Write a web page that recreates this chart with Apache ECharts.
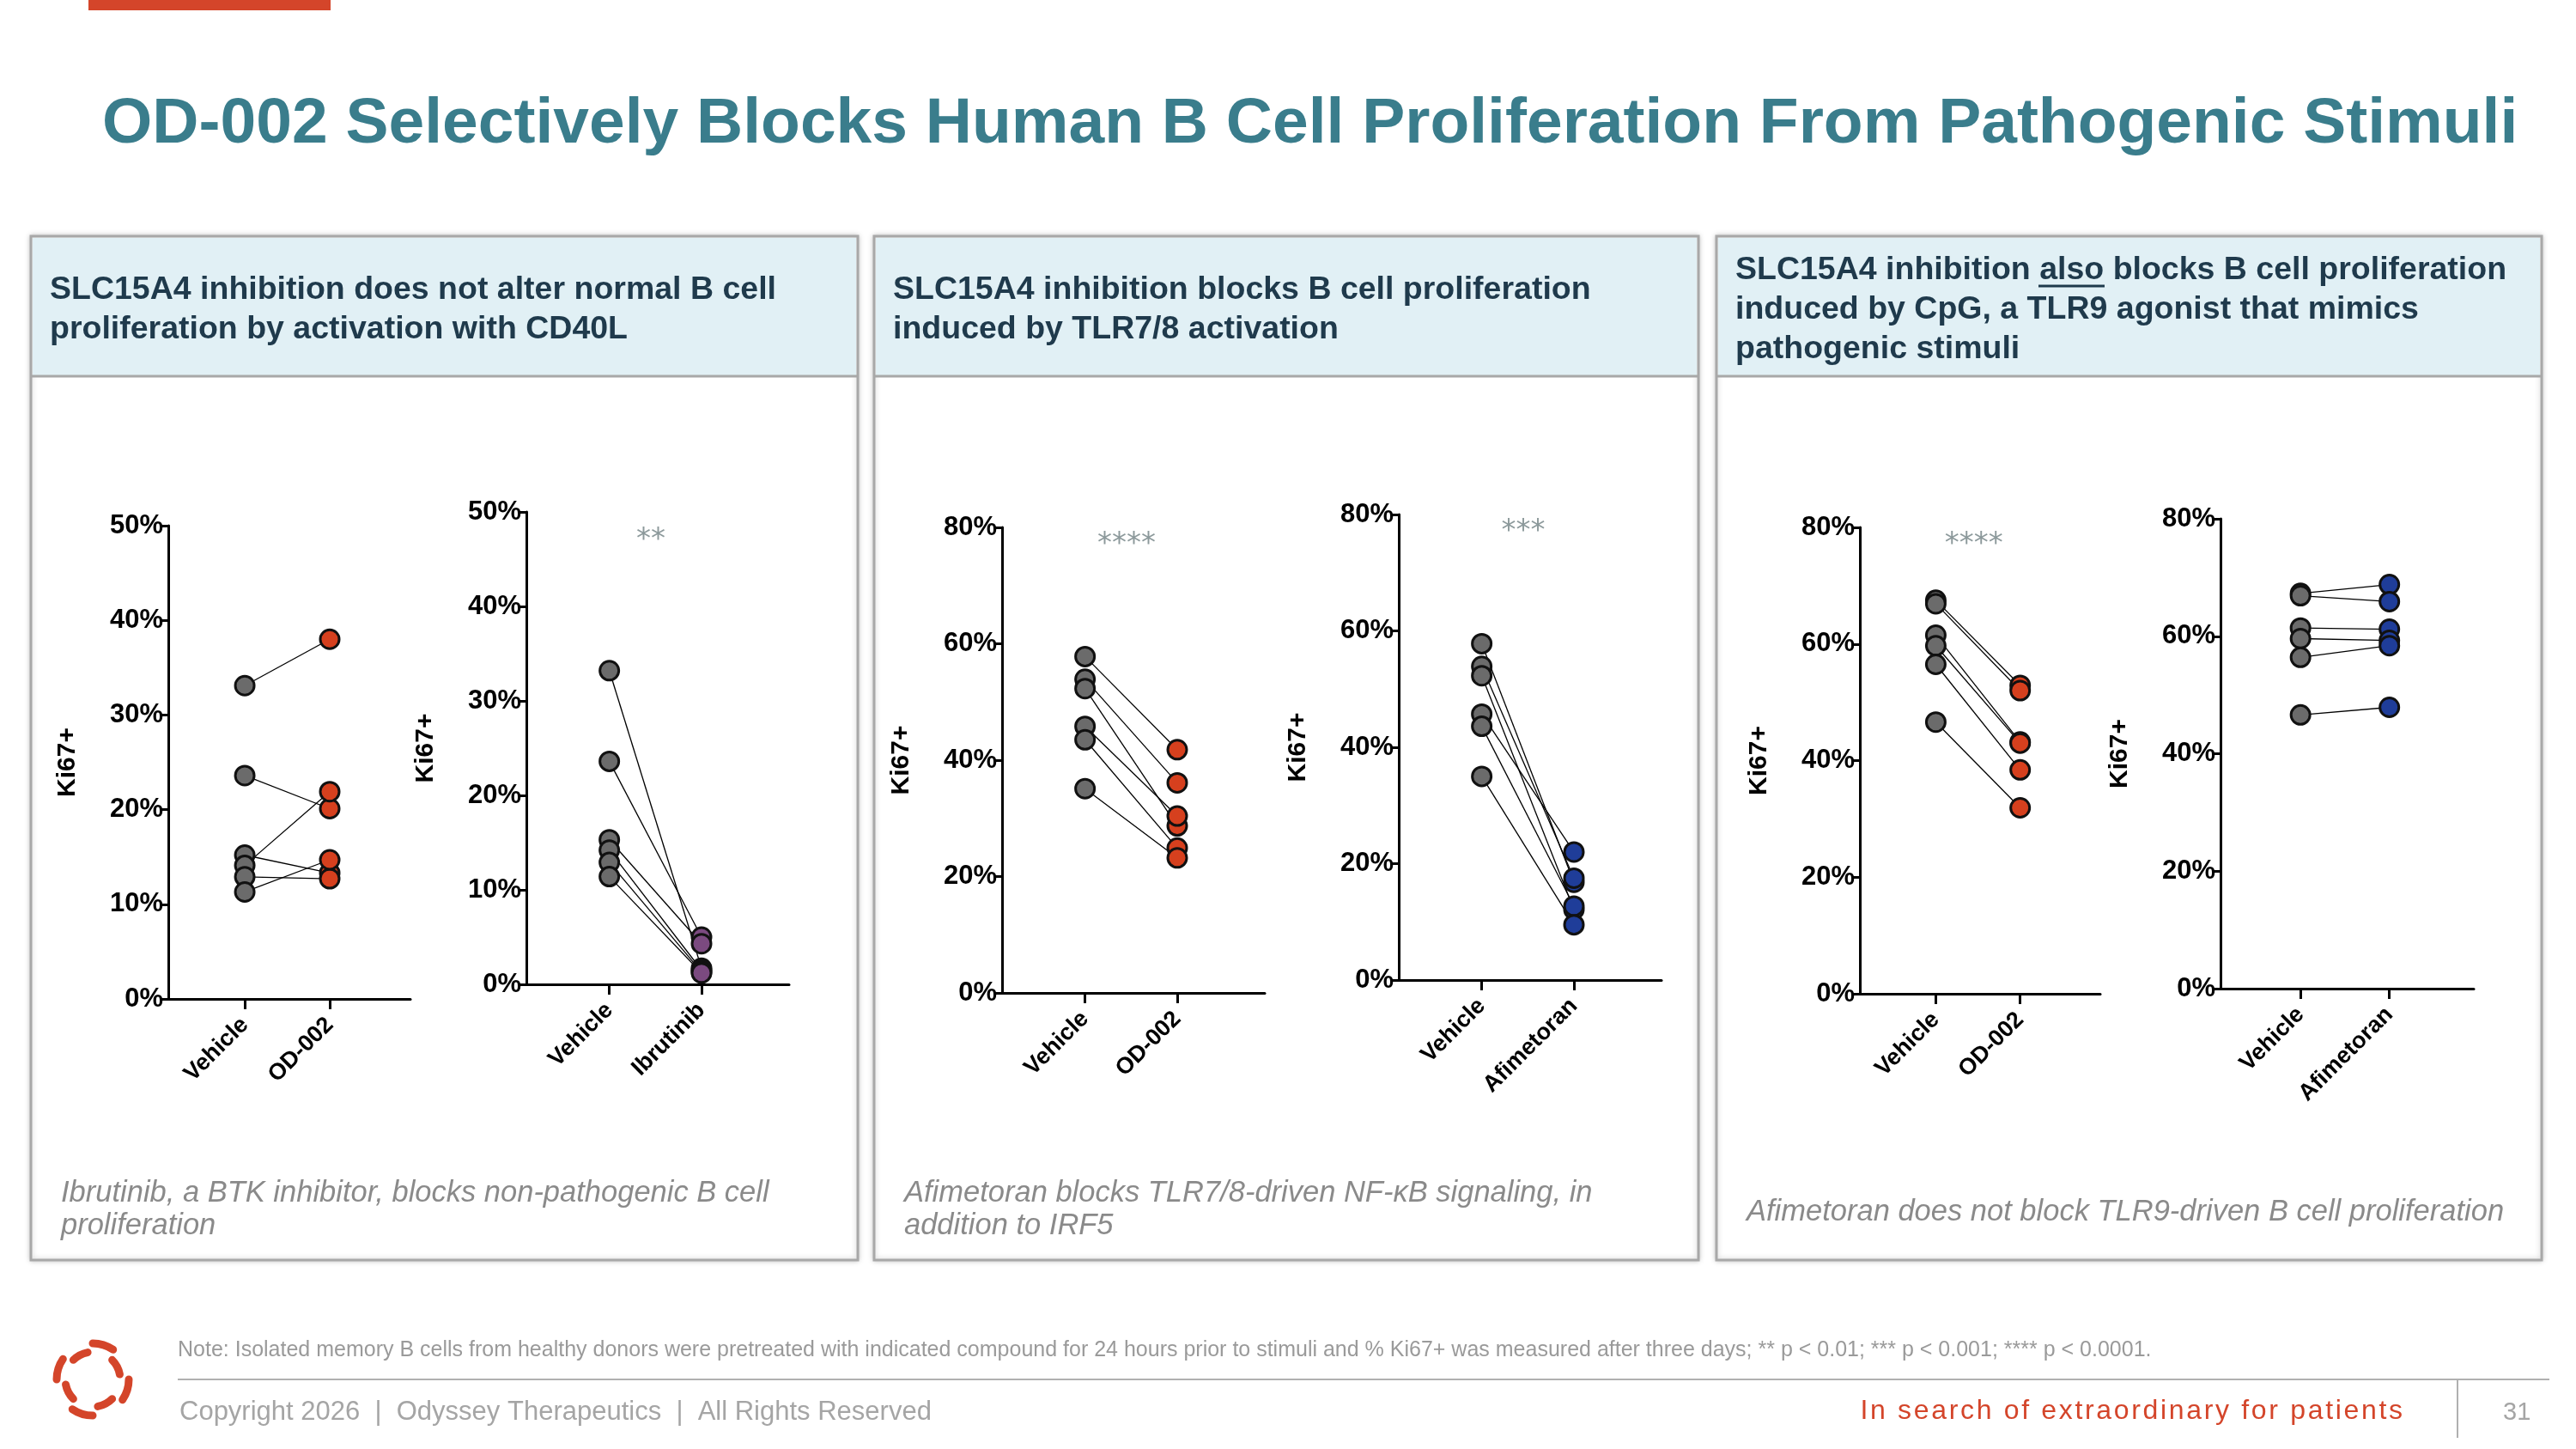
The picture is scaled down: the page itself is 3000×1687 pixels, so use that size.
<!DOCTYPE html>
<html><head><meta charset="utf-8">
<script src="https://cdn.jsdelivr.net/npm/echarts@6/dist/echarts.min.js"></script>
<style>html,body{margin:0;padding:0;background:#fff}#c{width:3000px;height:1687px}</style>
</head><body><div id="c"></div>
<script>
const xCats1 = ['Vehicle','OD-002'];
const xCats2 = ['Vehicle','Ibrutinib'];
const xCats3 = ['Vehicle','OD-002'];
const xCats4 = ['Vehicle','Afimetoran'];
const xCats5 = ['Vehicle','OD-002'];
const xCats6 = ['Vehicle','Afimetoran'];
const veh1 = [33.1,23.6,15.2,14.1,12.9,11.3], trt1 = [38.0,20.1,13.3,21.9,12.7,14.7];
const veh2 = [33.2,23.6,15.3,14.2,12.9,11.4], trt2 = [1.7,5.0,4.3,1.5,1.3,1.2];
const veh3 = [57.8,53.9,52.3,45.8,43.5,35.1], trt3 = [41.8,36.1,28.7,30.4,24.9,23.2];
const veh4 = [57.8,53.9,52.3,45.7,43.6,35.0], trt4 = [16.8,17.5,12.1,22.0,12.7,9.5];
const veh5 = [67.5,66.9,61.5,59.7,56.5,46.6], trt5 = [52.9,52.0,43.2,43.0,38.4,31.9];
const veh6 = [67.3,66.9,61.4,59.6,56.4,46.6], trt6 = [68.8,65.9,61.2,59.3,58.4,47.9];
const yMax = [50,50,80,80,80,80];
const yStep = [10,10,20,20,20,20];
const stars = ['','**','****','***','****',''];
const starY = [0,47,77,77,77,0];

const charts = [
 {cats:xCats1,veh:veh1,trt:trt1,col:'#d6401e',l:196,t:612,r:478,b:1163},
 {cats:xCats2,veh:veh2,trt:trt2,col:'#7b4a80',l:613,t:596,r:919,b:1146},
 {cats:xCats3,veh:veh3,trt:trt3,col:'#d6401e',l:1167,t:614,r:1473,b:1156},
 {cats:xCats4,veh:veh4,trt:trt4,col:'#1f3d99',l:1629,t:599,r:1935,b:1141},
 {cats:xCats5,veh:veh5,trt:trt5,col:'#d6401e',l:2166,t:614,r:2446,b:1157},
 {cats:xCats6,veh:veh6,trt:trt6,col:'#1f3d99',l:2586,t:604,r:2881,b:1151}
];
const grid=[],xAxis=[],yAxis=[],series=[];
charts.forEach((c,i)=>{
  const w=c.r-c.l;
  grid.push({left:c.l,top:c.t,width:w,height:c.b-c.t});
  xAxis.push({gridIndex:i,type:'value',min:0.1,max:2.95,
    axisLine:{lineStyle:{color:'#000',width:3}},splitLine:{show:false},
    axisTick:{customValues:[1,2],length:12,lineStyle:{color:'#000',width:3}},
    axisLabel:{customValues:[1,2],rotate:45,margin:26,color:'#000',fontWeight:'bold',fontSize:27,fontFamily:'Liberation Sans, Arial',
      formatter:v=>c.cats[Math.round(v)-1]||''}});
  yAxis.push({gridIndex:i,type:'value',min:0,max:yMax[i],interval:yStep[i],
    name:'Ki67+',nameLocation:'middle',nameGap:102,nameTextStyle:{color:'#000',fontWeight:'bold',fontSize:30,fontFamily:'Liberation Sans, Arial'},
    axisLine:{show:true,lineStyle:{color:'#000',width:3}},splitLine:{show:false},
    axisTick:{show:true,length:10,lineStyle:{color:'#000',width:3}},
    axisLabel:{color:'#000',fontWeight:'bold',fontSize:31,margin:6,fontFamily:'Liberation Sans Narrow, Liberation Sans, Arial',formatter:v=>v+'%'}});
  c.veh.forEach((v,k)=>{
    series.push({type:'line',xAxisIndex:i,yAxisIndex:i,data:[[1,v],[2,c.trt[k]]],symbol:'none',silent:true,
      lineStyle:{color:'#000',width:1.3},z:2});
  });
  series.push({type:'scatter',xAxisIndex:i,yAxisIndex:i,data:c.veh.map(v=>[1,v]),symbolSize:22,
    itemStyle:{color:'#6b6b6b',borderColor:'#111',borderWidth:3,opacity:1},z:3});
  series.push({type:'scatter',xAxisIndex:i,yAxisIndex:i,data:c.trt.map(v=>[2,v]),symbolSize:22,
    itemStyle:{color:c.col,borderColor:'#111',borderWidth:3,opacity:1},z:3});
  if(stars[i]) series.push({type:'scatter',xAxisIndex:i,yAxisIndex:i,data:[[1.45,starY[i]]],symbolSize:1,
    itemStyle:{color:'transparent'},label:{show:true,position:'inside',formatter:stars[i],color:'#6f7f82',fontSize:34,fontFamily:'DejaVu Sans, Liberation Sans'}});
});

const txt=(x,y,text,style)=>({type:'text',left:x,top:y,style:Object.assign({text,fill:'#000',fontFamily:'Liberation Sans, Arial'},style)});
const graphic=[];
graphic.push({type:'rect',shape:{x:103,y:0,width:282,height:12},style:{fill:'#d4452a'}});
graphic.push(txt(119,108,'OD-002 Selectively Blocks Human B Cell Proliferation From Pathogenic Stimuli',{fill:'#3a7d8c',fontSize:75,fontWeight:'bold'}));
const panels=[[36,999],[1018,1978],[1999,2960]];
const heads=['SLC15A4 inhibition does not alter normal B cell\nproliferation by activation with CD40L',
 'SLC15A4 inhibition blocks B cell proliferation\ninduced by TLR7/8 activation',
 'SLC15A4 inhibition also blocks B cell proliferation\ninduced by CpG, a TLR9 agonist that mimics\npathogenic stimuli'];
const caps=['Ibrutinib, a BTK inhibitor, blocks non-pathogenic B cell\nproliferation','Afimetoran blocks TLR7/8-driven NF-κB signaling, in\naddition to IRF5','Afimetoran does not block TLR9-driven B cell proliferation'];
panels.forEach((p,i)=>{
  graphic.push({type:'rect',shape:{x:p[0],y:275,width:p[1]-p[0],height:1192},style:{fill:'#fff',stroke:'#a8a8a8',lineWidth:3,shadowBlur:6,shadowColor:'rgba(0,0,0,0.2)'},z:-10});
  graphic.push({type:'rect',shape:{x:p[0]+2,y:277,width:p[1]-p[0]-4,height:161},style:{fill:'#e1f0f5'},z:-9});
  graphic.push({type:'line',shape:{x1:p[0],y1:438,x2:p[1],y2:438},style:{stroke:'#a8a8a8',lineWidth:3},z:-8});
  graphic.push(txt(p[0]+22,i==2?292:315,heads[i],{fill:'#1f3a4c',fontSize:37.5,fontWeight:'bold',lineHeight:46}));
  graphic.push(txt(p[0]+35,i==2?1392:1370,caps[i],{fill:'#8a8a8a',fontSize:34.5,fontStyle:'italic',lineHeight:38}));
});
graphic.push({type:'line',shape:{x1:2374,y1:333,x2:2451,y2:333},style:{stroke:'#1f3a4c',lineWidth:3}});
graphic.push(txt(207,1560,'Note: Isolated memory B cells from healthy donors were pretreated with indicated compound for 24 hours prior to stimuli and % Ki67+ was measured after three days; ** p < 0.01; *** p < 0.001; **** p < 0.0001.',{fill:'#9a9a9a',fontSize:25}));
graphic.push({type:'line',shape:{x1:207,y1:1606,x2:2969,y2:1606},style:{stroke:'#b0b0b0',lineWidth:2}});
graphic.push(txt(209,1629,'Copyright 2026  |  Odyssey Therapeutics  |  All Rights Reserved',{fill:'#a5a5a5',fontSize:31}));
const tagline='In search of extraordinary for patients';
graphic.push({type:'text',right:202,top:1627,style:{text:tagline.split('').join('\u200A'),fill:'#d4452a',fontSize:32,fontFamily:'Liberation Sans, Arial'}});
graphic.push({type:'line',shape:{x1:2862,y1:1607,x2:2862,y2:1674},style:{stroke:'#b0b0b0',lineWidth:2}});
graphic.push(txt(2915,1630,'31',{fill:'#a5a5a5',fontSize:29}));
for(let k=0;k<8;k++){
  const a=k*Math.PI/4;
  graphic.push({type:'arc',shape:{cx:108,cy:1606,r:42-(k%2)*10,startAngle:a,endAngle:a+0.6},style:{stroke:'#d4452a',lineWidth:9,fill:null,lineCap:'round'}});
}
const chart=echarts.init(document.getElementById('c'));
chart.setOption({animation:false,grid,xAxis,yAxis,series,graphic});
</script></body></html>
